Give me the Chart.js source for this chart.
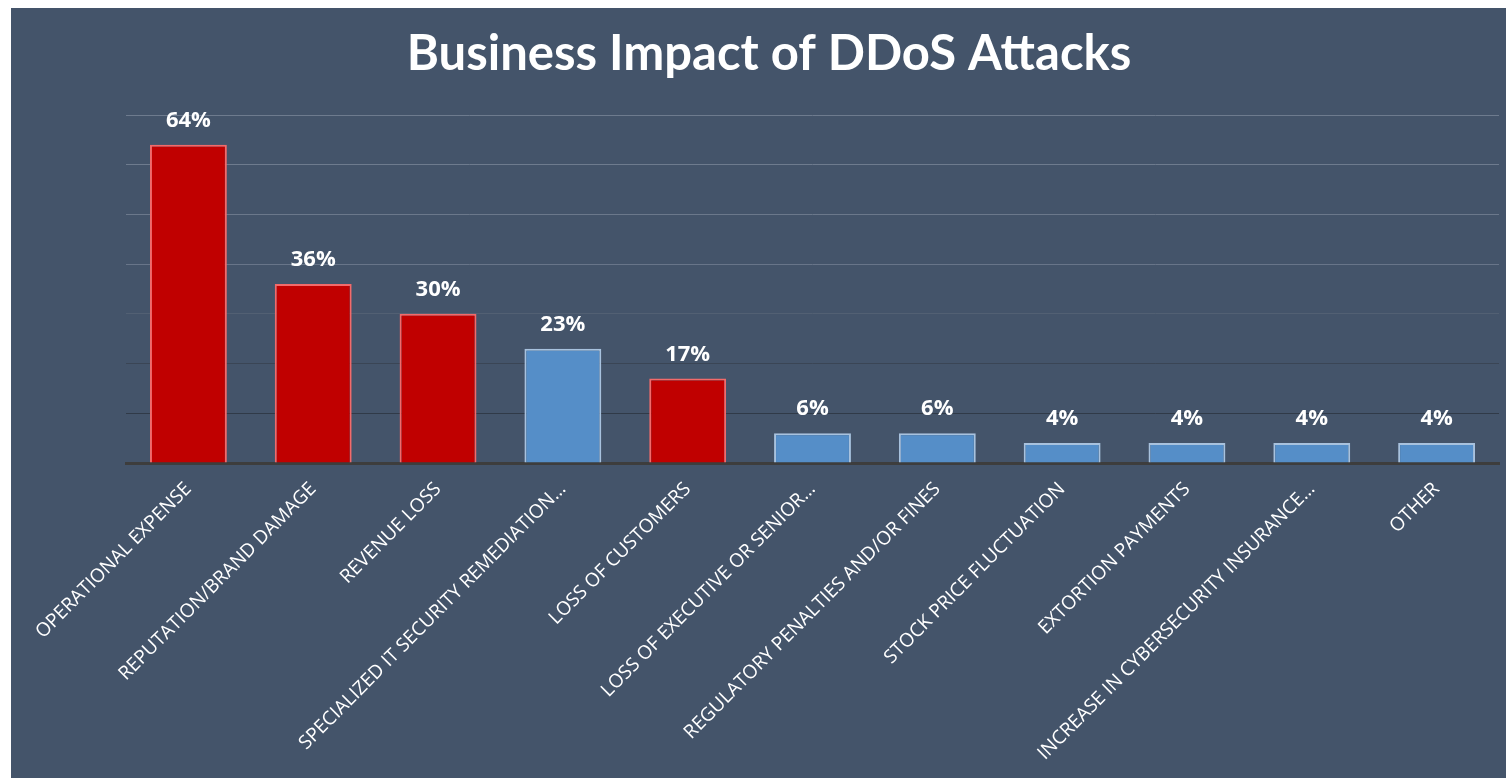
<!DOCTYPE html>
<html lang="en">
<head>
    <meta charset="UTF-8">
    <title>Business Impact of DDoS Attacks</title>
    <style>
        html, body { margin: 0; padding: 0; background: #fff; }
        .panel {
            position: absolute;
            left: 11px;
            top: 8px;
            width: 1495px;
            height: 770px;
            background: #44546a;
        }
    </style>
</head>
<body>
    <div class="panel">
        <canvas id="impactChart"></canvas>
    </div>

    <script src="https://cdn.jsdelivr.net/npm/chart.js"></script>
    <script>
        const categories = [
            'OPERATIONAL EXPENSE',
            'REPUTATION/BRAND DAMAGE',
            'REVENUE LOSS',
            'SPECIALIZED IT SECURITY REMEDIATION…',
            'LOSS OF CUSTOMERS',
            'LOSS OF EXECUTIVE OR SENIOR…',
            'REGULATORY PENALTIES AND/OR FINES',
            'STOCK PRICE FLUCTUATION',
            'EXTORTION PAYMENTS',
            'INCREASE IN CYBERSECURITY INSURANCE…',
            'OTHER'
        ];
        const percentages = [64, 36, 30, 23, 17, 6, 6, 4, 4, 4, 4];
        // true = shown in red, false = blue
        const highlighted = [true, true, true, false, true, false, false, false, false, false, false];

        const RED = '#c00000', RED_EDGE = '#f36a6a';
        const BLUE = '#558ec8', BLUE_EDGE = '#a8c2de';

        // grid lines fade from light at the top to dark near the baseline
        const gridShade = { 70: '#6e7b8e', 60: '#6e7b8e', 50: '#6b788b', 40: '#687589', 30: '#526073', 20: '#3a4555', 10: '#303a48' };

        const valueLabels = {
            id: 'valueLabels',
            afterDatasetsDraw(chart) {
                const ctx = chart.ctx;
                const meta = chart.getDatasetMeta(0);
                ctx.save();
                ctx.font = 'bold 22px "Open Sans"';
                ctx.fillStyle = '#ffffff';
                ctx.textAlign = 'center';
                ctx.textBaseline = 'middle';
                meta.data.forEach((bar, i) => {
                    ctx.fillText(percentages[i] + '%', bar.x, bar.y - 24);
                });
                ctx.restore();
            }
        };

        new Chart(document.getElementById('impactChart'), {
            type: 'bar',
            data: {
                labels: categories,
                datasets: [{
                    data: percentages,
                    backgroundColor: highlighted.map(h => h ? RED : BLUE),
                    borderColor: highlighted.map(h => h ? RED_EDGE : BLUE_EDGE),
                    borderWidth: 2,
                    barPercentage: 0.616,
                    categoryPercentage: 1
                }]
            },
            options: {
                responsive: true,
                maintainAspectRatio: false,
                animation: false,
                layout: { padding: { left: 28, right: 7, top: 0, bottom: 0 } },
                plugins: {
                    legend: { display: false },
                    tooltip: { enabled: false },
                    title: {
                        display: true,
                        text: 'Business Impact of DDoS Attacks',
                        color: '#ffffff',
                        font: { family: 'Lato', size: 49, weight: 'bold', lineHeight: 1.2 },
                        padding: { top: 17, bottom: 31.2 }
                    }
                },
                scales: {
                    x: {
                        grid: { display: false },
                        border: { color: '#3d3d3d', width: 3 },
                        ticks: {
                            color: '#ffffff',
                            font: { family: 'Open Sans', size: 19 },
                            minRotation: 45,
                            maxRotation: 45,
                            autoSkip: false,
                            padding: 7
                        },
                        afterFit(scale) {
                            scale.height = 315;
                            scale.paddingLeft = 0;
                            scale.paddingRight = 0;
                        }
                    },
                    y: {
                        min: 0,
                        max: 70,
                        ticks: { display: false, stepSize: 10 },
                        border: { display: false },
                        grid: {
                            drawTicks: false,
                            color: ctx => gridShade[ctx.tick.value] || 'rgba(0,0,0,0)',
                            lineWidth: 1
                        },
                        afterFit(scale) {
                            scale.width = 87;
                        }
                    }
                }
            },
            plugins: [valueLabels]
        });
    </script>
</body>
</html>
